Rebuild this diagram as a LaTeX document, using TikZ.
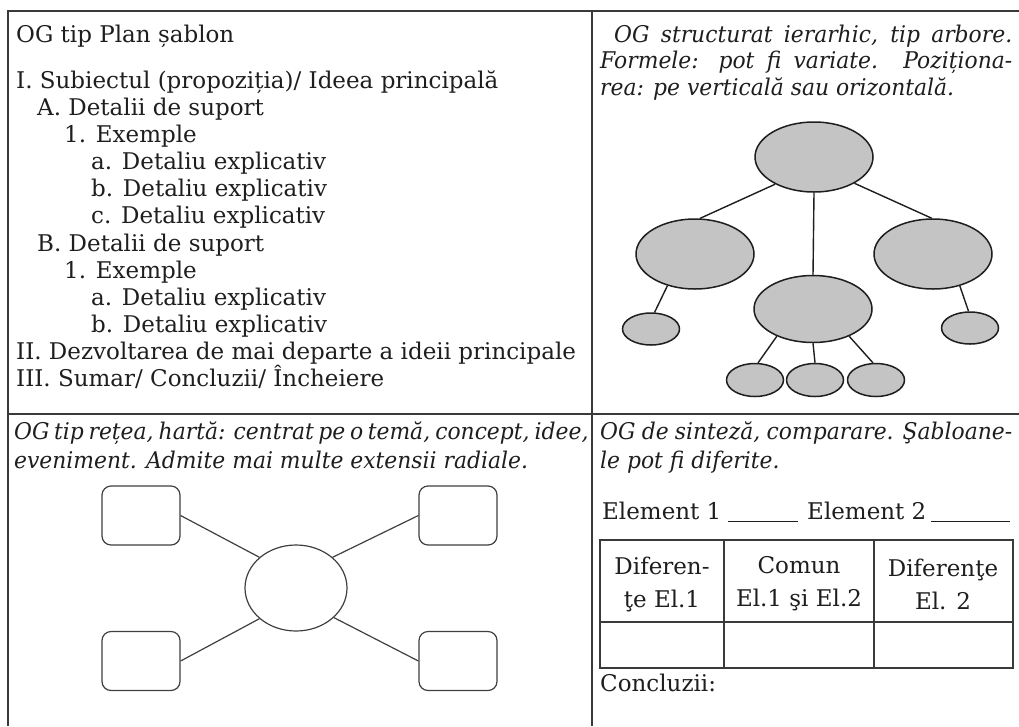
\documentclass[tikz,border=0pt]{standalone}
\usepackage{fontspec}
\setmainfont{DejaVu Serif}
\usetikzlibrary{shapes.geometric}

\definecolor{ink}{HTML}{1E1E1E}
\definecolor{rulegray}{HTML}{3A3A3A}
\definecolor{leaf}{HTML}{C4C4C4}

% italic lines are set slightly condensed; \jit justifies a line to a given final width
\newcommand{\itsx}{0.95}
\newlength{\jitlen}
\newcommand{\jit}[2]{\pgfmathsetlength{\jitlen}{#1/\itsx}\scalebox{\itsx}[1]{\makebox[\jitlen][s]{#2}}}
\newcommand{\nit}[1]{\scalebox{\itsx}[1]{#1}}

\tikzset{
  frame/.style={draw=rulegray, line width=1.5pt},
  txt/.style={anchor=base west, inner sep=0pt, text=ink, font=\fontsize{23}{27}\selectfont},
  itxt/.style={anchor=base west, inner sep=0pt, text=ink, font=\fontsize{23}{27}\selectfont\itshape},
  cell/.style={inner sep=0pt, text=ink, align=center, font=\fontsize{23}{33}\selectfont},
  bigleaf/.style={ellipse, draw=ink, fill=leaf, line width=1.5pt, inner sep=0pt, minimum width=118pt, minimum height=70pt},
  smallleaf/.style={ellipse, draw=ink, fill=leaf, line width=1.5pt, inner sep=0pt, minimum width=57pt, minimum height=33pt},
  branch/.style={draw=ink, line width=1.4pt},
  webbox/.style={rectangle, rounded corners=9pt, draw=ink!85, line width=1.2pt, minimum width=78pt, minimum height=59pt, inner sep=0pt},
  hub/.style={ellipse, draw=ink!85, line width=1.2pt, fill=white, minimum width=102pt, minimum height=86pt, inner sep=0pt},
  spoke/.style={draw=ink!85, line width=1.2pt}
}

\begin{document}
\begin{tikzpicture}[x=1pt, y=-1pt]
\useasboundingbox (0,0) rectangle (1019,726);
\fill[white] (0,0) rectangle (1019,726);

% ---- frame of the four panels ----
\draw[frame] (8,726) -- (8,11) -- (1019,11);
\draw[frame] (592,11) -- (592,726);
\draw[frame] (8,414) -- (1019,414);

% ---- panel 1: outline template ----
\node[txt] (p1) at (16,42) {OG tip Plan șablon};
\node[txt] (p2) at (16,88) {I. Subiectul (propoziția)/ Ideea principală};
\node[txt] (p3) at (37,115) {A. Detalii de suport};
\node[txt] (p4) at (64,142) {1. Exemple};
\node[txt] (p5) at (91,169) {a. Detaliu explicativ};
\node[txt] (p6) at (91,196) {b. Detaliu explicativ};
\node[txt] (p7) at (91,223) {c. Detaliu explicativ};
\node[txt] (p8) at (37,251) {B. Detalii de suport};
\node[txt] (p9) at (64,278) {1. Exemple};
\node[txt] (p10) at (91,305) {a. Detaliu explicativ};
\node[txt] (p11) at (91,332) {b. Detaliu explicativ};
\node[txt] (p12) at (16,359) {II. Dezvoltarea de mai departe a ideii principale};
\node[txt] (p13) at (16,386) {III. Sumar/ Concluzii/ Încheiere};

% ---- panel 2: tree ----
\node[itxt] (t1) at (614,42) {\jit{398}{OG structurat ierarhic, tip arbore.}};
\node[itxt] (t2) at (600,68) {\jit{412}{Formele: pot fi variate. Poziționa-}};
\node[itxt] (t3) at (600,95) {\nit{rea: pe verticală sau orizontală.}};

\node[bigleaf] (root) at (814,157) {};
\node[bigleaf] (left) at (695,254) {};
\node[bigleaf] (right) at (933,254) {};
\node[bigleaf, minimum height=67pt] (mid) at (813,309) {};
\node[smallleaf, minimum height=32pt] (leftleaf) at (651,329) {};
\node[smallleaf, minimum height=32pt] (rightleaf) at (970,328) {};
\node[smallleaf] (b1) at (755,380) {};
\node[smallleaf] (b2) at (815,380) {};
\node[smallleaf] (b3) at (876,380) {};

\draw[branch] (root.215) -- (left.82);
\draw[branch] (root.-33) -- (right.92);
\draw[branch] (root.south) -- (mid.north);
\draw[branch] (left.229) -- (leftleaf.78);
\draw[branch] (right.-50) -- (rightleaf.95);
\draw[branch] (mid.217) -- (b1.80);
\draw[branch] (mid.south) -- (b2.north);
\draw[branch] (mid.-37) -- (b3.100);

% ---- panel 3: web map ----
\node[itxt] (w1) at (14,439) {\jit{564}{OG tip rețea, hartă: centrat pe o temă, concept, idee,}};
\node[itxt] (w2) at (14,468) {\nit{eveniment. Admite mai multe extensii radiale.}};

\node[hub] (core) at (296,588) {};
\node[webbox] (nw) at (141,515.5) {};
\node[webbox] (ne) at (458,515.5) {};
\node[webbox] (sw) at (141,661) {};
\node[webbox] (se) at (458,661) {};

\draw[spoke] (nw.east) -- (core.140);
\draw[spoke] (ne.west) -- (core.40);
\draw[spoke] (sw.east) -- (core.220);
\draw[spoke] (se.west) -- (core.-38);

% ---- panel 4: comparison ----
\node[itxt] (c1) at (600,439) {\jit{412}{OG de sinteză, comparare. Şabloane-}};
\node[itxt] (c2) at (600,468) {\nit{le pot fi diferite.}};

\node[txt] (e1) at (602,519) {Element 1};
\node[txt] (e2) at (807,519) {Element 2};
\coordinate (u1a) at (728,521);
\coordinate (u1b) at (798,521);
\coordinate (u2a) at (931,521);
\coordinate (u2b) at (1010,521);
\draw[draw=ink, line width=1pt] (u1a) -- (u1b);
\draw[draw=ink, line width=1pt] (u2a) -- (u2b);

% comparison table
\draw[frame] (600,540) rectangle (1013,668);
\draw[frame] (600,622) -- (1013,622);
\draw[frame] (724,540) -- (724,668);
\draw[frame] (874,540) -- (874,668);

\node[cell] (h1) at (662,584) {Diferen-\\ţe El.1};
\node[cell] (h2) at (799,584) {Comun\\El.1 şi El.2};
\node[cell] (h3) at (943,584) {Diferenţe\\El. 2};

\node[txt] (conc) at (600,691) {Concluzii:};
\end{tikzpicture}
\end{document}
